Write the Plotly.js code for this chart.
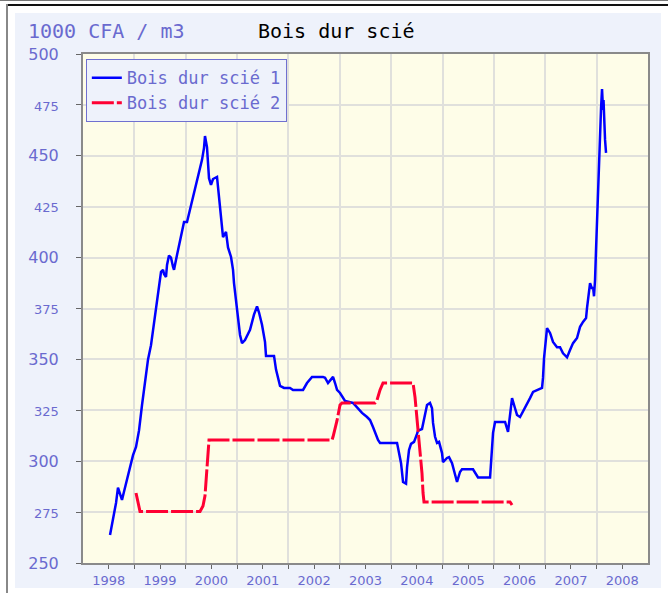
<!DOCTYPE html>
<html>
<head>
<meta charset="utf-8">
<script src="https://cdn.plot.ly/plotly-3.0.1.min.js"></script>
<style>
  html, body { margin: 0; padding: 0; background: #ffffff; width: 668px; height: 593px; overflow: hidden; }
  #topA { position: absolute; left: 0; top: 0; width: 668px; height: 1px; background: #777; }
  #topB { position: absolute; left: 6px; top: 4px; width: 662px; height: 2px; background: #111; }
  #leftB { position: absolute; left: 6px; top: 4px; width: 2px; height: 589px; background: #888; }
  #chart { position: absolute; left: 15px; top: 13px; width: 646px; height: 575px; }
</style>
</head>
<body>
<div id="topA"></div><div id="topB"></div><div id="leftB"></div>
<div id="chart"></div>
<script>
// Series 1 : Bois dur scié 1 (decimal year, 1000 CFA / m3)
const blueYears = [
  1998.526,1998.584,1998.643,1998.681,1998.720,1998.759,1998.798,1998.857,1998.915,1998.974,
  1999.032,1999.090,1999.149,1999.207,1999.266,1999.324,1999.363,1999.402,1999.441,1999.480,
  1999.519,1999.558,1999.577,1999.616,1999.636,1999.674,1999.713,1999.752,1999.772,1999.811,
  1999.850,1999.889,1999.928,1999.967,2000.025,2000.083,2000.142,2000.181,2000.220,2000.259,
  2000.317,2000.356,2000.375,2000.414,2000.424,2000.453,2000.492,2000.531,2000.609,2000.628,
  2000.667,2000.706,2000.726,2000.784,2000.823,2000.882,2000.921,2000.940,2000.960,2000.998,
  2001.018,2001.057,2001.096,2001.154,2001.252,2001.329,2001.388,2001.427,2001.485,2001.544,
  2001.563,2001.719,2001.758,2001.836,2001.914,2002.030,2002.089,2002.284,2002.361,2002.459,
  2002.673,2002.712,2002.770,2002.868,2002.907,2002.946,2003.004,2003.062,2003.101,2003.257,
  2003.393,2003.432,2003.530,2003.588,2003.646,2003.685,2003.744,2003.783,2004.114,2004.153,
  2004.192,2004.231,2004.289,2004.309,2004.347,2004.386,2004.445,2004.503,2004.523,2004.600,
  2004.639,2004.698,2004.756,2004.795,2004.815,2004.854,2004.893,2004.932,2004.990,2005.009,
  2005.087,2005.126,2005.185,2005.224,2005.282,2005.340,2005.379,2005.593,2005.691,2005.925,
  2005.963,2005.983,2006.022,2006.217,2006.275,2006.314,2006.353,2006.411,2006.450,2006.509,
  2006.606,2006.703,2006.762,2006.859,2006.937,2006.956,2006.976,2007.015,2007.034,2007.093,
  2007.151,2007.229,2007.287,2007.346,2007.424,2007.482,2007.541,2007.618,2007.677,2007.735,
  2007.794,2007.813,2007.833,2007.872,2007.911,2007.930,2007.949,2007.969,2007.988,2008.008,
  2008.027,2008.047,2008.086,2008.105,2008.125,2008.134,2008.144,2008.164,2008.183
];
const blueValues = [
  263.8,272,279.5,287,284,281,285,291,298,303,
  307,315,327.6,340,350,357,364.5,372.8,380.7,387.5,
  393,394,392,390.5,396.4,401,400,395.5,394,399,
  403.8,409.6,413.6,417.5,417.5,423.4,429.8,433,436.7,441.6,
  448,453.9,459.7,454.3,448,439,435.7,438.6,439.6,434.7,
  424,415,410,412.6,405,400.3,394,387.5,382.6,375,
  369,362,358,359.5,364.5,372,376,373,367,358.5,
  351.7,351.7,345,337,336,336,335,335,338.4,341.4,
  341.4,341,338.4,341.4,338.4,335,333.5,331,329.6,328.6,
  325,323.7,321.7,320.2,316.8,313.9,310.4,309,309,304,
  299,289.8,289,297,305.5,308.5,309.5,313.4,315,315.8,
  320.2,327.6,328.6,326,318.8,312,309,309.5,304,299.6,
  301.6,302,299,294.7,289.8,294.7,296,296,292,292,
  304,313.9,319.3,319.3,314.4,323.7,331,326,322.7,321.7,
  326,331,334,335,336,340.9,350.7,360.5,365.4,363,
  358.6,356,356,353,351,354.6,358,360.5,366,368.4,
  370.3,375.3,379,387.5,384.6,385.6,381,389,403.7,418.5,
  435.7,454.3,473.5,482.8,472.5,477.4,466.6,457.8,451.4
];

// Series 2 : Bois dur scié 2
const redYears = [
  1999.032,1999.071,1999.110,2000.278,2000.336,2000.375,2000.414,2000.453,2002.848,2002.868,
  2002.946,2003.004,2003.043,2003.685,2003.724,2003.783,2003.841,2004.425,2004.464,2004.523,
  2004.562,2004.600,2004.620,2004.639,2006.314,2006.353
];
const redValues = [
  284.4,280,275.3,275.3,278,283,295,310.4,310.4,312,
  320,327.6,328.6,328.6,330,335,338.4,338.4,331.5,316.8,
  307,294,284.4,280,280,278.5
];

const seriesNames = ['Bois dur scié 1', 'Bois dur scié 2'];
const xTickLabels = ['1998','1999','2000','2001','2002','2003','2004','2005','2006','2007','2008'];
const xTickPositions = [1998.5,1999.5,2000.5,2001.5,2002.5,2003.5,2004.5,2005.5,2006.5,2007.5,2008.5];
const yearBoundaries = [1999,2000,2001,2002,2003,2004,2005,2006,2007,2008];
const yTickValues = [250,275,300,325,350,375,400,425,450,475,500];
const yUnit = '1000 CFA / m3';
const chartTitle = 'Bois dur scié';

const labelBlue = '#6a6acf';
const yTickText = yTickValues.map(v => (v % 50 === 0)
  ? '<span style="font-size:16px">' + v + '</span>'
  : '<span style="font-size:13px">' + v + '</span>');

const traces = [
  { x: blueYears, y: blueValues, name: seriesNames[0], type: 'scatter', mode: 'lines',
    line: { color: '#0000ff', width: 2.5 } },
  { x: redYears, y: redValues, name: seriesNames[1], type: 'scatter', mode: 'lines',
    line: { color: '#ff0033', width: 3, dash: '22px,3px' } }
];

const layout = {
  width: 646, height: 575,
  margin: { l: 68, r: 13, t: 41, b: 25 },
  paper_bgcolor: '#eef2fb',
  plot_bgcolor: '#fefde8',
  showlegend: true,
  hovermode: false,
  title: { text: chartTitle, x: 243 / 646, xanchor: 'left', xref: 'container',
           y: 1 - 18 / 575, yanchor: 'middle', yref: 'container',
           font: { family: 'DejaVu Sans Mono', size: 20, color: '#000000' } },
  legend: { x: 0.005, y: 0.99, xanchor: 'left', yanchor: 'top',
            bgcolor: '#eef2fb', bordercolor: '#7070d0', borderwidth: 1,
            font: { family: 'DejaVu Sans Mono', size: 17, color: labelBlue } },
  xaxis: { range: [1998, 2009], tickmode: 'array', tickvals: xTickPositions, ticktext: xTickLabels,
           ticks: 'outside', ticklen: 4, tickwidth: 1, tickcolor: '#666',
           showgrid: false, zeroline: false,
           showline: true, linecolor: '#8a8a8a', linewidth: 2, mirror: true,
           tickfont: { family: 'DejaVu Sans', size: 13, color: labelBlue },
           minor: { tickmode: 'array', tickvals: yearBoundaries, ticks: 'outside', ticklen: 4,
                    tickcolor: '#666', showgrid: true, gridcolor: '#e0e0dc', gridwidth: 2 } },
  yaxis: { range: [250, 500], tickmode: 'array', tickvals: yTickValues, ticktext: yTickText,
           ticks: 'outside', ticklen: 5, tickwidth: 1, tickcolor: '#666',
           showgrid: true, gridcolor: '#e0e0dc', gridwidth: 2, zeroline: false,
           showline: true, linecolor: '#8a8a8a', linewidth: 2, mirror: true,
           ticklabelstandoff: 14,
           tickfont: { family: 'DejaVu Sans', size: 16, color: labelBlue } },
  annotations: [
    { text: yUnit, xref: 'paper', yref: 'paper', x: (11 - 68) / 565, y: 1 + (41 - 18) / 509,
      xanchor: 'left', yanchor: 'middle', showarrow: false,
      font: { family: 'DejaVu Sans Mono', size: 20, color: labelBlue } }
  ]
};

Plotly.newPlot('chart', traces, layout, { displayModeBar: false, staticPlot: true });
</script>
</body>
</html>
